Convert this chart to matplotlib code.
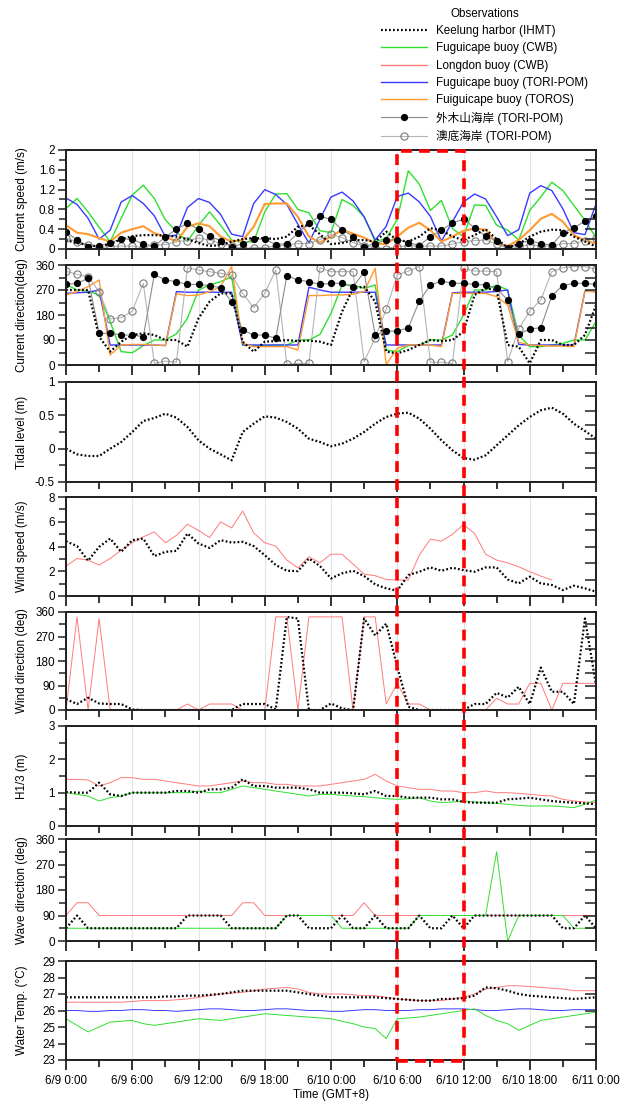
import numpy as np
import matplotlib.pyplot as plt
from matplotlib.lines import Line2D
from matplotlib.patches import Rectangle
from matplotlib.transforms import blended_transform_factory
from matplotlib.ticker import MultipleLocator, FuncFormatter

plt.rcParams['font.family'] = ['Liberation Sans', 'Noto Sans CJK TC', 'DejaVu Sans']
plt.rcParams['font.size'] = 8.4

# hourly samples, 6/9 0:00 .. 6/11 0:00
hours = np.arange(49)
tick_hours = [0, 6, 12, 18, 24, 30, 36, 42, 48]
tick_labels = ['6/9 0:00', '6/9 6:00', '6/9 12:00', '6/9 18:00', '6/10 0:00',
               '6/10 6:00', '6/10 12:00', '6/10 18:00', '6/11 0:00']
box_hours = (30, 36)  # highlighted window 6/10 6:00 - 12:00

# Current speed (m/s)
spd_ihmt = [0.18, 0.12, 0.08, 0.05, 0.1, 0.2, 0.26, 0.28, 0.28, 0.27, 0.25, 0.2, 0.12, 0.06, 0.08, 0.15,
            0.2, 0.22, 0.22, 0.2, 0.25, 0.45, 0.48, 0.3, 0.1, 0.12, 0.18, 0.18, 0.15, 0.35, 0.18, 0.15,
            0.25, 0.42, 0.38, 0.25, 0.18, 0.28, 0.4, 0.2, 0.03, 0.1, 0.25, 0.35, 0.39, 0.38, 0.25, 0.15, 0.05]
spd_fugui_cwb = [0.82, 1.02, 0.75, 0.44, 0.15, 0.62, 1.09, 1.29, 1.02, 0.59, 0.35, 0.15, 0.48, 0.75, 0.48, 0.18,
                 0.13, 0.15, 0.75, 1.11, 1.12, 0.8, 0.73, 0.37, 0.33, 1.0, 0.88, 0.65, 0.15, 0.21, 0.6, 1.58,
                 1.31, 0.78, 0.98, 0.41, 0.25, 0.89, 0.88, 0.48, 0.38, 0.18, 0.78, 1.05, 1.35, 1.18, 0.88, 0.58, 0.23]
spd_fugui_tori = [1.03, 0.9, 0.62, 0.2, 0.38, 0.95, 1.08, 0.92, 0.67, 0.25, 0.28, 0.84, 1.02, 0.94, 0.7, 0.3,
                  0.25, 0.92, 1.2, 1.1, 0.9, 0.5, 0.12, 0.6, 1.05, 1.15, 0.97, 0.65, 0.18, 0.46, 1.06, 1.13,
                  0.95, 0.66, 0.16, 0.55, 0.95, 1.11, 1.01, 0.65, 0.27, 0.39, 1.13, 1.28, 1.18, 0.81, 0.33, 0.29, 0.91]
spd_fugui_toros = [0.48, 0.33, 0.3, 0.22, 0.15, 0.33, 0.4, 0.46, 0.32, 0.25, 0.15, 0.45, 0.52, 0.46, 0.25, 0.15,
                   0.18, 0.45, 0.91, 0.92, 0.92, 0.65, 0.25, 0.13, 0.25, 0.39, 0.31, 0.23, 0.11, 0.1, 0.25, 0.43,
                   0.53, 0.38, 0.15, 0.25, 0.37, 0.41, 0.39, 0.11, 0.06, 0.18, 0.38, 0.61, 0.71, 0.55, 0.28, 0.17, 0.11]
spd_waimu = [0.35, 0.18, 0.05, 0.06, 0.13, 0.2, 0.2, 0.1, 0.06, 0.24, 0.4, 0.52, 0.4, 0.26, 0.17, 0.05,
             0.1, 0.2, 0.2, 0.09, 0.11, 0.32, 0.52, 0.66, 0.6, 0.39, 0.25, 0.05, 0.11, 0.18, 0.19, 0.13,
             0.07, 0.25, 0.38, 0.53, 0.6, 0.43, 0.26, 0.17, 0.03, 0.11, 0.17, 0.11, 0.08, 0.33, 0.43, 0.56, 0.67]
spd_aodi = [0.22, 0.15, 0.08, 0.03, 0.05, 0.06, 0.06, 0.03, 0.08, 0.09, 0.15, 0.17, 0.22, 0.18, 0.11, 0.06,
            0.01, 0.03, 0.03, 0.06, 0.08, 0.11, 0.11, 0.19, 0.3, 0.23, 0.13, 0.06, 0.03, 0.01, 0.05, 0.06,
            0.06, 0.06, 0.06, 0.1, 0.15, 0.17, 0.18, 0.1, 0.01, 0.06, 0.08, 0.06, 0.06, 0.11, 0.11, 0.17, 0.23]

# Current direction (deg)
dir_ihmt = [270, 270, 270, 102, 48, 84, 108, 114, 108, 90, 90, 66, 168, 228, 258, 258,
            84, 48, 84, 86, 90, 86, 88, 84, 72, 192, 276, 282, 228, 48, 42, 54,
            72, 90, 86, 90, 120, 252, 276, 270, 72, 66, 6, 90, 90, 72, 72, 108, 216]
dir_fugui_cwb = [290, 270, 266, 252, 156, 48, 44, 70, 90, 90, 112, 168, 270, 288, 300, 318,
                 72, 70, 70, 72, 72, 90, 90, 110, 186, 288, 288, 276, 288, 54, 48, 70,
                 72, 90, 90, 108, 180, 270, 270, 288, 270, 108, 66, 66, 72, 78, 90, 90, 156]
dir_fugui_tori = [258, 260, 262, 270, 72, 72, 72, 72, 72, 70, 264, 262, 262, 262, 262, 262,
                  72, 72, 72, 72, 72, 72, 280, 270, 262, 262, 262, 262, 262, 72, 72, 72,
                  72, 72, 72, 260, 262, 262, 262, 265, 270, 74, 72, 72, 72, 72, 72, 266, 264]
dir_fugui_toros = [252, 264, 282, 306, 36, 72, 74, 74, 72, 70, 256, 250, 252, 264, 282, 354,
                   78, 66, 66, 66, 66, 54, 250, 250, 252, 252, 255, 264, 348, 2, 60, 72,
                   72, 72, 66, 258, 258, 258, 258, 246, 216, 82, 72, 70, 68, 68, 66, 266, 264]
dir_waimu = [290, 294, 312, 114, 114, 108, 108, 102, 326, 306, 300, 290, 290, 286, 278, 228,
             126, 108, 108, 96, 322, 306, 300, 290, 294, 294, 282, 334, 108, 122, 122, 134,
             230, 288, 302, 294, 294, 290, 288, 276, 234, 110, 130, 134, 250, 286, 294, 294, 290]
dir_aodi = [338, 326, 318, 264, 166, 170, 194, 294, 6, 14, 10, 350, 342, 336, 330, 324,
            258, 206, 258, 342, 2, 6, 6, 350, 336, 336, 336, 12, 98, 200, 324, 338,
            354, 10, 10, 6, 348, 338, 338, 336, 12, 130, 194, 234, 336, 350, 354, 354, 346]

# Tidal level (m)
tide_ihmt = [0, -0.085, -0.11, -0.11, 0, 0.1, 0.25, 0.415, 0.46, 0.525, 0.465, 0.325, 0.125, 0, -0.085, -0.175,
             0.25, 0.375, 0.485, 0.465, 0.4, 0.3, 0.15, 0.1, 0.035, 0.075, 0.15, 0.25, 0.375, 0.475, 0.525, 0.54,
             0.45, 0.3, 0.125, -0.025, -0.14, -0.165, -0.1, 0.05, 0.2, 0.35, 0.475, 0.575, 0.615, 0.525, 0.375,
             0.265, 0.15]

# Wind speed (m/s)
wspd_ihmt = [4.43, 4.03, 2.85, 3.97, 4.64, 3.57, 4.51, 4.64, 3.22, 3.57, 3.65, 5.05, 4.24, 3.89, 4.51, 4.32,
             4.38, 4.03, 3.3, 2.5, 2.04, 2.01, 3.03, 2.42, 1.42, 1.83, 2.04, 1.61, 0.94, 0.62, 0.43, 1.69,
             1.96, 2.31, 2.04, 2.28, 2.09, 1.96, 2.31, 2.31, 1.34, 1.02, 1.56, 1.02, 0.89, 0.48, 0.83, 0.62, 0.35]
wspd_longdon = [2.42, 3.03, 2.9, 2.5, 3.03, 3.7, 4.3, 4.78, 5.18, 4.3, 4.9, 5.8, 5.3, 4.72, 5.99, 5.5,
                6.87, 5.1, 4.3, 4.03, 2.9, 2.28, 3.17, 2.68, 3.38, 3.38, 2.58, 1.77, 1.64, 1.34, 1.29, 1.29,
                3.3, 4.59, 4.43, 4.99, 5.77, 5.05, 3.38, 2.9, 2.68, 2.36, 1.96, 1.61, 1.29]

# Wind direction (deg)
wdir_ihmt = [40, 22, 45, 24, 22, 22, 2, 0, 0, 0, 0, 0, 0, 0, 0, 0,
             22, 22, 22, 2, 342, 336, 0, 0, 24, 6, 0, 336, 274, 317, 159, 12,
             0, 0, 0, 0, 0, 22, 22, 63, 46, 85, 22, 156, 67, 67, 22, 336, 92]
wdir_longdon = [0, 342, 0, 336, 0, 0, 0, 0, 0, 0, 0, 22, 0, 22, 22, 22,
                0, 0, 0, 342, 342, 0, 342, 342, 342, 342, 0, 342, 342, 22, 98, 22,
                22, 0, 0, 0, 0, 0, 0, 43, 22, 22, 98, 98, 0, 98, 98, 98, 98]

# Significant wave height H1/3 (m)
hs_ihmt = [1.02, 1.0, 1.0, 1.3, 0.95, 0.9, 1.0, 1.0, 1.0, 1.0, 1.05, 1.05, 1.0, 1.1, 1.1, 1.15,
           1.4, 1.2, 1.2, 1.15, 1.15, 1.15, 1.1, 1.0, 1.0, 1.0, 0.98, 0.95, 1.05, 0.9, 0.9, 0.85,
           0.85, 0.85, 0.8, 0.8, 0.72, 0.7, 0.7, 0.7, 0.8, 0.82, 0.85, 0.8, 0.75, 0.72, 0.7, 0.68, 0.65]
hs_longdon = [1.4, 1.4, 1.38, 1.2, 1.3, 1.45, 1.45, 1.4, 1.4, 1.35, 1.3, 1.25, 1.2, 1.2, 1.25, 1.3,
              1.35, 1.3, 1.3, 1.25, 1.25, 1.2, 1.2, 1.2, 1.25, 1.3, 1.35, 1.4, 1.55, 1.35, 1.2, 1.15,
              1.1, 1.1, 1.05, 1.05, 1.0, 1.0, 1.05, 1.0, 1.0, 0.98, 0.95, 0.92, 0.9, 0.8, 0.75, 0.72, 0.7]
hs_fugui_cwb = [1.0, 0.95, 0.9, 0.75, 0.85, 0.9, 1.0, 1.0, 1.0, 1.0, 1.0, 1.0, 1.05, 1.0, 1.0, 1.1,
                1.2, 1.15, 1.1, 1.05, 1.0, 0.95, 0.9, 0.95, 0.95, 0.92, 0.9, 0.88, 0.85, 0.82, 0.8, 0.82,
                0.85, 0.75, 0.7, 0.72, 0.75, 0.72, 0.7, 0.68, 0.65, 0.62, 0.6, 0.6, 0.6, 0.58, 0.55, 0.65, 0.78]

# Wave direction (deg)
wvdir_ihmt = [45, 90, 45, 45, 45, 45, 45, 45, 45, 45, 45, 90, 90, 90, 90, 45,
              45, 45, 45, 45, 90, 90, 45, 45, 45, 90, 45, 45, 90, 45, 45, 45,
              90, 45, 45, 90, 45, 90, 90, 90, 90, 90, 90, 90, 90, 45, 45, 90, 45]
wvdir_longdon = [90, 135, 135, 90, 90, 90, 90, 90, 90, 90, 90, 90, 90, 90, 90, 90,
                 135, 135, 90, 90, 90, 90, 90, 90, 90, 90, 90, 135, 90, 90, 90, 90,
                 90, 90, 90, 90, 90, 90, 90, 90, 90, 90, 90, 90, 90, 90, 90, 90, 90]
wvdir_fugui_cwb = [45, 45, 45, 45, 45, 45, 45, 45, 45, 45, 45, 45, 45, 45, 45, 45,
                   45, 45, 45, 45, 90, 90, 90, 90, 90, 45, 45, 45, 45, 45, 45, 45,
                   90, 90, 90, 90, 90, 90, 90, 315, 0, 90, 90, 90, 90, 90, 45, 45, 45]

# Water temperature (deg C)
temp_ihmt = [26.8, 26.8, 26.8, 26.8, 26.8, 26.8, 26.8, 26.8, 26.8, 26.85, 26.85, 26.9, 26.9, 26.95, 27.0, 27.1,
             27.2, 27.2, 27.2, 27.2, 27.2, 27.1, 27.0, 26.9, 26.8, 26.8, 26.8, 26.8, 26.8, 26.75, 26.7, 26.65,
             26.6, 26.6, 26.7, 26.7, 26.75, 26.9, 27.4, 27.35, 27.2, 27.0, 26.9, 26.85, 26.8, 26.75, 26.7, 26.75, 26.8]
temp_longdon = [26.5, 26.5, 26.5, 26.5, 26.5, 26.5, 26.55, 26.6, 26.6, 26.6, 26.65, 26.7, 26.8, 26.9, 27.0, 27.05,
                27.1, 27.2, 27.3, 27.35, 27.4, 27.3, 27.1, 27.0, 27.0, 27.0, 26.95, 26.9, 26.9, 26.8, 26.7, 26.65,
                26.6, 26.6, 26.6, 26.7, 26.8, 27.0, 27.3, 27.4, 27.5, 27.5, 27.45, 27.4, 27.35, 27.3, 27.2, 27.2, 27.2]
temp_fugui_tori = [26.0, 26.0, 25.95, 25.95, 26.0, 26.0, 26.05, 26.05, 26.0, 26.0, 25.95, 26.0, 26.05, 26.1, 26.1, 26.05,
                   26.0, 26.0, 26.05, 26.1, 26.1, 26.05, 26.0, 26.0, 25.95, 25.95, 26.0, 26.05, 26.05, 26.0, 26.0, 26.0,
                   26.05, 26.05, 26.1, 26.1, 26.1, 26.05, 26.0, 26.0, 26.05, 26.1, 26.1, 26.05, 26.0, 26.0, 26.05, 26.05, 26.05]
temp_fugui_cwb = [25.5, 25.1, 24.7, 25.0, 25.3, 25.35, 25.4, 25.2, 25.1, 25.2, 25.3, 25.4, 25.5, 25.45, 25.4, 25.5,
                  25.6, 25.7, 25.8, 25.75, 25.7, 25.65, 25.6, 25.55, 25.5, 25.35, 25.2, 25.0, 24.9, 24.3, 25.5, 25.55,
                  25.6, 25.7, 25.8, 25.9, 26.0, 26.1, 25.7, 25.4, 25.2, 24.8, 25.1, 25.4, 25.5, 25.6, 25.7, 25.8, 25.9]

C_IHMT = 'black'
C_CWB = '#2ee02e'
C_LONGDON = '#ff7a7a'
C_TORI = '#3a3aff'
C_TOROS = '#ff9a30'
IHMT_LS = (0, (0.8, 1.0))

fig = plt.figure(figsize=(6.33, 11.06), dpi=100)


def panel_rect(top_px, bot_px):
    return [66 / 633, 1 - bot_px / 1106, 530 / 633, (bot_px - top_px) / 1106]


def plot_ihmt(ax, y):
    ax.plot(hours[:len(y)], y, color=C_IHMT, lw=1.6, ls=IHMT_LS, zorder=5)


def plot_aodi(ax, y):
    ax.plot(hours, y, color='#b4b4b4', lw=0.8, marker='o', ms=5.2, mfc='none', mec='#7a7a7a', mew=0.8, zorder=3)


def plot_waimu(ax, y):
    ax.plot(hours, y, color='#8c8c8c', lw=0.8, marker='o', ms=4.2, mfc='black', mec='black', zorder=4)


def style(ax, ylim, major, minor, nright, label):
    twin = ax.twinx()
    ax.set_xlim(0, 48)
    ax.set_ylim(*ylim)
    ax.set_xticks(tick_hours)
    ax.set_xticks(np.arange(0, 49, 3), minor=True)
    ax.set_xticklabels([])
    ax.yaxis.set_major_locator(MultipleLocator(major))
    if minor:
        ax.yaxis.set_minor_locator(MultipleLocator(minor))
    ax.yaxis.set_major_formatter(FuncFormatter(lambda v, p: '%g' % round(v, 3)))
    ax.tick_params(axis='x', which='major', direction='out', length=7, width=1.3, color='#222222')
    ax.tick_params(axis='x', which='minor', direction='out', length=5, width=1.3, color='#222222')
    ax.tick_params(axis='y', which='major', direction='out', length=6, width=1.1, pad=2, color='#222222')
    ax.tick_params(axis='y', which='minor', direction='out', length=5, width=1.1, color='#222222')
    ax.grid(axis='x', which='major', color='#e4e4e4', lw=0.8)
    twin.set_ylim(*ylim)
    twin.set_yticks(np.linspace(ylim[0], ylim[1], nright + 1))
    twin.tick_params(axis='y', direction='in', length=8, width=1.1, labelright=False, color='#222222')
    for a in (ax, twin):
        for s in a.spines.values():
            s.set_linewidth(1.3)
            s.set_color('#222222')
    ax.set_ylabel(label)
    ax.yaxis.set_label_coords(-0.072, 0.5)


# 1 current speed
ax1 = fig.add_axes(panel_rect(150, 249))
plot_aodi(ax1, spd_aodi)
plot_waimu(ax1, spd_waimu)
ax1.plot(hours, spd_fugui_cwb, color=C_CWB, lw=1.0)
ax1.plot(hours, spd_fugui_tori, color=C_TORI, lw=1.0)
ax1.plot(hours, spd_fugui_toros, color=C_TOROS, lw=1.5)
plot_ihmt(ax1, spd_ihmt)
style(ax1, (0, 2), 0.4, 0.2, 10, 'Current speed (m/s)')

# 2 current direction
ax2 = fig.add_axes(panel_rect(265, 365))
plot_aodi(ax2, dir_aodi)
plot_waimu(ax2, dir_waimu)
ax2.plot(hours, dir_fugui_cwb, color=C_CWB, lw=1.0)
ax2.plot(hours, dir_fugui_tori, color=C_TORI, lw=1.0)
ax2.plot(hours, dir_fugui_toros, color=C_TOROS, lw=1.0)
plot_ihmt(ax2, dir_ihmt)
style(ax2, (0, 360), 90, 45, 8, 'Current direction(deg)')

# 3 tidal level
ax3 = fig.add_axes(panel_rect(382, 482))
plot_ihmt(ax3, tide_ihmt)
style(ax3, (-0.5, 1), 0.5, 0.25, 7, 'Tidal level (m)')

# 4 wind speed
ax4 = fig.add_axes(panel_rect(497, 596))
ax4.plot(hours[:len(wspd_longdon)], wspd_longdon, color=C_LONGDON, lw=0.7)
plot_ihmt(ax4, wspd_ihmt)
style(ax4, (0, 8), 2, 1, 6, 'Wind speed (m/s)')

# 5 wind direction
ax5 = fig.add_axes(panel_rect(612, 710))
ax5.plot(hours, wdir_longdon, color=C_LONGDON, lw=0.7)
plot_ihmt(ax5, wdir_ihmt)
style(ax5, (0, 360), 90, 45, 8, 'Wind direction (deg)')

# 6 H1/3
ax6 = fig.add_axes(panel_rect(726, 826))
ax6.plot(hours, hs_longdon, color=C_LONGDON, lw=0.7)
ax6.plot(hours, hs_fugui_cwb, color=C_CWB, lw=0.7)
plot_ihmt(ax6, hs_ihmt)
style(ax6, (0, 3), 1, 0.5, 6, 'H1/3 (m)')

# 7 wave direction
ax7 = fig.add_axes(panel_rect(839, 941))
ax7.plot(hours, wvdir_longdon, color=C_LONGDON, lw=0.7)
ax7.plot(hours, wvdir_fugui_cwb, color=C_CWB, lw=0.7)
plot_ihmt(ax7, wvdir_ihmt)
style(ax7, (0, 360), 90, 45, 8, 'Wave direction (deg)')

# 8 water temperature
ax8 = fig.add_axes(panel_rect(961, 1060))
ax8.plot(hours, temp_longdon, color=C_LONGDON, lw=0.7)
ax8.plot(hours, temp_fugui_tori, color=C_TORI, lw=0.7)
ax8.plot(hours, temp_fugui_cwb, color=C_CWB, lw=0.7)
plot_ihmt(ax8, temp_ihmt)
style(ax8, (23, 29), 1, None, 6, 'Water Temp. (\u00b0C)')
ax8.set_xticklabels(tick_labels)
ax8.tick_params(axis='x', which='major', pad=4)
ax8.set_xlabel('Time (GMT+8)', labelpad=1)

# red dashed box over 6/10 6:00 - 12:00
trans = blended_transform_factory(ax1.transData, fig.transFigure)
y_lo = 1 - 1061 / 1106
y_hi = 1 - 151 / 1106
fig.add_artist(Rectangle((box_hours[0], y_lo), box_hours[1] - box_hours[0], y_hi - y_lo,
                         transform=trans, fill=False, ec='#ff0000', lw=2.6,
                         ls=(0, (3, 2)), zorder=10, clip_on=False))

# legend
handles = [
    Line2D([], [], color=C_IHMT, lw=1.6, ls=IHMT_LS),
    Line2D([], [], color=C_CWB, lw=1.0),
    Line2D([], [], color=C_LONGDON, lw=1.0),
    Line2D([], [], color=C_TORI, lw=1.0),
    Line2D([], [], color=C_TOROS, lw=1.0),
    Line2D([], [], color='#8c8c8c', lw=0.8, marker='o', ms=4.2, mfc='black', mec='black'),
    Line2D([], [], color='#b4b4b4', lw=0.8, marker='o', ms=5.2, mfc='none', mec='#7a7a7a', mew=0.8),
]
labels = ['Keelung harbor (IHMT)', 'Fuguicape buoy (CWB)', 'Longdon buoy (CWB)',
          'Fuguicape buoy (TORI-POM)', 'Fuiguicape buoy (TOROS)',
          '外木山海岸 (TORI-POM)', '澳底海岸 (TORI-POM)']
fig.legend(handles, labels, loc='upper left', bbox_to_anchor=(381 / 633, 1 - 8 / 1106),
           frameon=False, title='Observations', title_fontsize=8.4, fontsize=8.4,
           handlelength=3.9, handletextpad=0.85, labelspacing=0.45, borderpad=0, borderaxespad=0)

fig.savefig('out.png', dpi=100)
